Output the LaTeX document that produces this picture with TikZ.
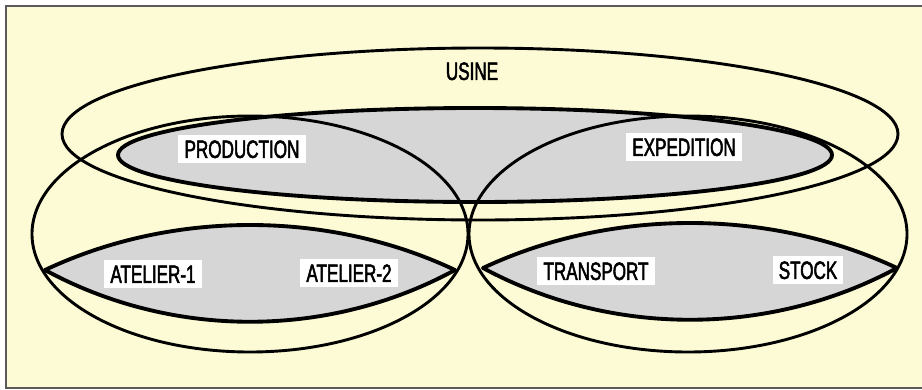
\documentclass[tikz,border=0pt]{standalone}
\usepackage{fontspec}
\newfontfamily\labfont[FakeStretch=0.68,FakeBold=2]{Liberation Sans}
\definecolor{bgyellow}{RGB}{252,251,213}
\definecolor{setgray}{RGB}{214,214,214}
\definecolor{framegray}{RGB}{90,90,90}
\tikzset{
  lab/.style={font=\labfont\fontsize{14.3}{16}\selectfont, inner xsep=3.5pt, inner ysep=2.8pt, text height=10.2pt, text depth=0pt},
  boxed/.style={lab, fill=white},
  grayset/.style={fill=setgray, draw=black, line width=2.2pt, line join=round},
  outerset/.style={draw=black, line width=1.65pt}
}
\begin{document}
\begin{tikzpicture}[x=0.02cm,y=-0.02cm]
\useasboundingbox (0,0) rectangle (922,389);
\fill[white] (0,0) rectangle (922,389);
\fill[bgyellow] (6,6) rectangle (922,388);
\draw[framegray, line width=0.8pt] (922,6) -- (6,6) -- (6,388) -- (922,388);
% gray sets
\path[grayset] (475,155) ellipse [x radius=357, y radius=47];
\path[grayset] (45,270) .. controls (172,210) and (328,210) .. (455,270) .. controls (328,339) and (172,339) .. (45,270) -- cycle;
\path[grayset] (483,268) .. controls (611,208) and (769,208) .. (897,268) .. controls (769,337) and (611,337) .. (483,268) -- cycle;
% outer sets
\path[outerset] (480,134) ellipse [x radius=418, y radius=86];
\path[outerset] (250,234) ellipse [x radius=218, y radius=118];
\path[outerset] (688,234) ellipse [x radius=219, y radius=118];
% labels
\node[lab] (usine) at (472,71) {USINE};
\node[boxed] (production) at (242,149) {PRODUCTION};
\node[boxed] (expedition) at (684,147) {EXPEDITION};
\node[boxed] (atelier1) at (153,274) {ATELIER-1};
\node[boxed] (atelier2) at (349,273) {ATELIER-2};
\node[boxed] (transport) at (596,271) {TRANSPORT};
\node[boxed] (stock) at (808,270) {STOCK};
\end{tikzpicture}
\end{document}
